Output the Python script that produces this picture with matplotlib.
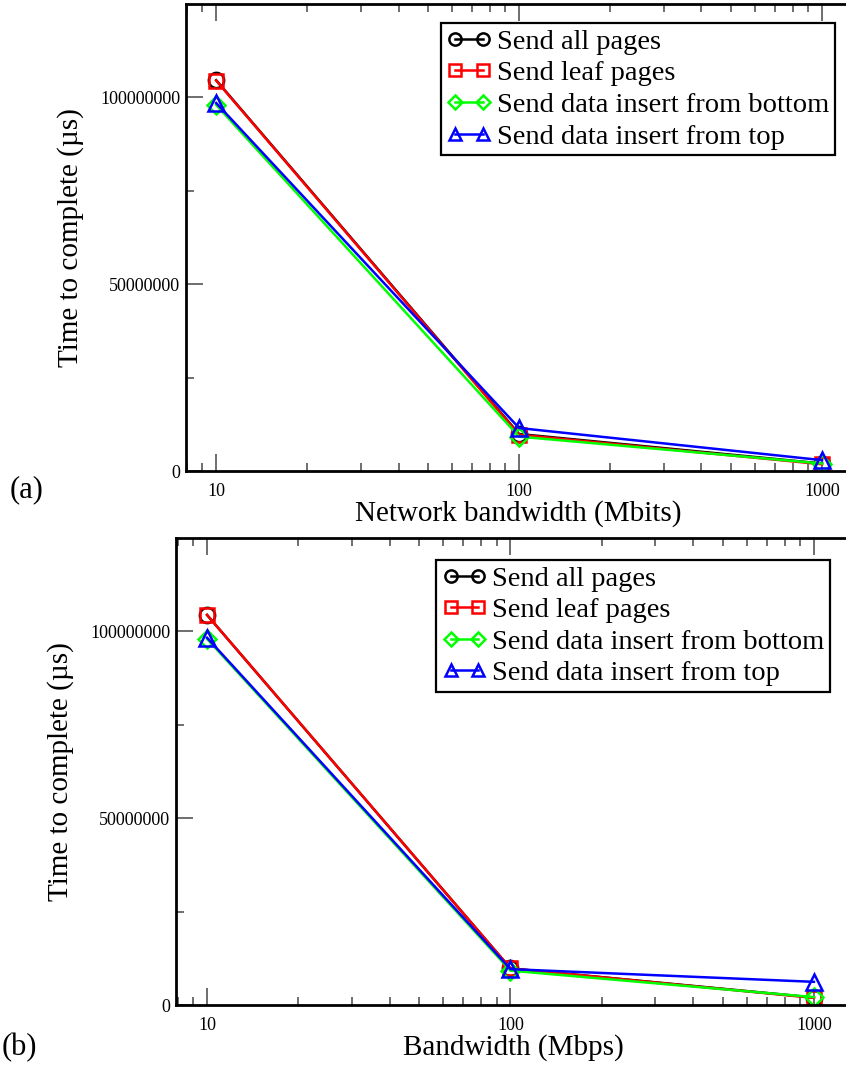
"""Completion time vs. network bandwidth for the four page-shipping strategies,
two stacked panels (a) and (b)."""
import matplotlib
matplotlib.use("Agg")
import matplotlib.pyplot as plt
from matplotlib.ticker import FixedLocator, LogLocator, NullFormatter

plt.rcParams["font.family"] = ["Liberation Serif", "DejaVu Serif"]

# ---------------------------------------------------------------------------
# Data (time in microseconds)
# ---------------------------------------------------------------------------
bandwidth = [10, 100, 1000]

series_names = [
    "Send all pages",
    "Send leaf pages",
    "Send data insert from bottom",
    "Send data insert from top",
]

# panel (a): network bandwidth in Mbits
a_all_pages = [104.6e6, 9.9e6, 2.0e6]
a_leaf_pages = [104.5e6, 9.7e6, 1.8e6]
a_insert_bottom = [98.0e6, 9.2e6, 2.0e6]
a_insert_top = [98.5e6, 11.5e6, 2.9e6]

# panel (b): bandwidth in Mbps
b_all_pages = [104.4e6, 9.8e6, 2.0e6]
b_leaf_pages = [104.4e6, 9.8e6, 1.9e6]
b_insert_bottom = [98.0e6, 9.2e6, 2.1e6]
b_insert_top = [98.3e6, 9.6e6, 6.2e6]

y_ticks = [0, 50000000, 100000000]
y_ticklabels = ["0", "50000000", "100000000"]

STYLES = [
    dict(color="black", marker="o", size=11),
    dict(color="#ff0000", marker="s", size=10.5),
    dict(color="#00ff00", marker="D", size=9),
    dict(color="#0000ff", marker="^", size=11.5),
]

W, H = 846, 1070


def px_rect(left, top, right, bottom):
    """Axes rectangle from pixel edges (origin top-left)."""
    return [left / W, (H - bottom) / H, (right - left) / W, (bottom - top) / H]


def draw_panel(fig, rect, xlim, series, xlabel, tag, tag_xy, legend_anchor):
    ax = fig.add_axes(rect)
    for ys, name, st in zip(series, series_names, STYLES):
        ax.plot(bandwidth, ys, color=st["color"], marker=st["marker"],
                markersize=st["size"], markerfacecolor="none",
                markeredgecolor=st["color"], markeredgewidth=1.8,
                linewidth=1.8, label=name)

    ax.set_xscale("log")
    ax.set_xlim(*xlim)
    ax.set_ylim(0, 125e6)

    ax.xaxis.set_major_locator(FixedLocator(bandwidth))
    ax.set_xticklabels([str(b) for b in bandwidth])
    ax.xaxis.set_minor_locator(LogLocator(base=10, subs=range(2, 10)))
    ax.xaxis.set_minor_formatter(NullFormatter())
    ax.yaxis.set_major_locator(FixedLocator(y_ticks))
    ax.set_yticklabels(y_ticklabels)
    ax.yaxis.set_minor_locator(FixedLocator([25e6, 75e6]))

    ax.tick_params(which="both", direction="in", top=True, right=False,
                   labelsize=13, color="#555555", width=1.2)
    ax.tick_params(which="major", length=12)
    ax.tick_params(which="minor", length=6)
    ax.tick_params(axis="x", pad=9)
    ax.tick_params(axis="y", pad=4)
    for sp in ax.spines.values():
        sp.set_linewidth(2.0)

    ax.set_xlabel(xlabel, fontsize=21, labelpad=0)
    ax.set_ylabel("Time to complete (µs)", fontsize=21, labelpad=12)

    leg = ax.legend(loc="upper right", bbox_to_anchor=legend_anchor,
                    fontsize=20.5, numpoints=2, handlelength=1.55,
                    handletextpad=0.2, labelspacing=0.2, borderpad=0.2,
                    borderaxespad=0, fancybox=False, framealpha=1,
                    edgecolor="black", markerscale=0.8)
    leg.get_frame().set_linewidth(1.6)

    fig.text(tag_xy[0] / W, 1 - tag_xy[1] / H, tag, fontsize=22,
             ha="left", va="center")
    return ax


fig = plt.figure(figsize=(W / 100, H / 100), dpi=100)

draw_panel(fig, px_rect(186, 4, 850, 471), (7.95, 1237),
           [a_all_pages, a_leaf_pages, a_insert_bottom, a_insert_top],
           "Network bandwidth (Mbits)", "(a)", (10, 490), (0.977, 0.959))

draw_panel(fig, px_rect(176, 538, 850, 1005), (7.9, 1315),
           [b_all_pages, b_leaf_pages, b_insert_bottom, b_insert_top],
           "Bandwidth (Mbps)", "(b)", (2, 1048), (0.970, 0.953))

fig.savefig("out.png", dpi=100)
